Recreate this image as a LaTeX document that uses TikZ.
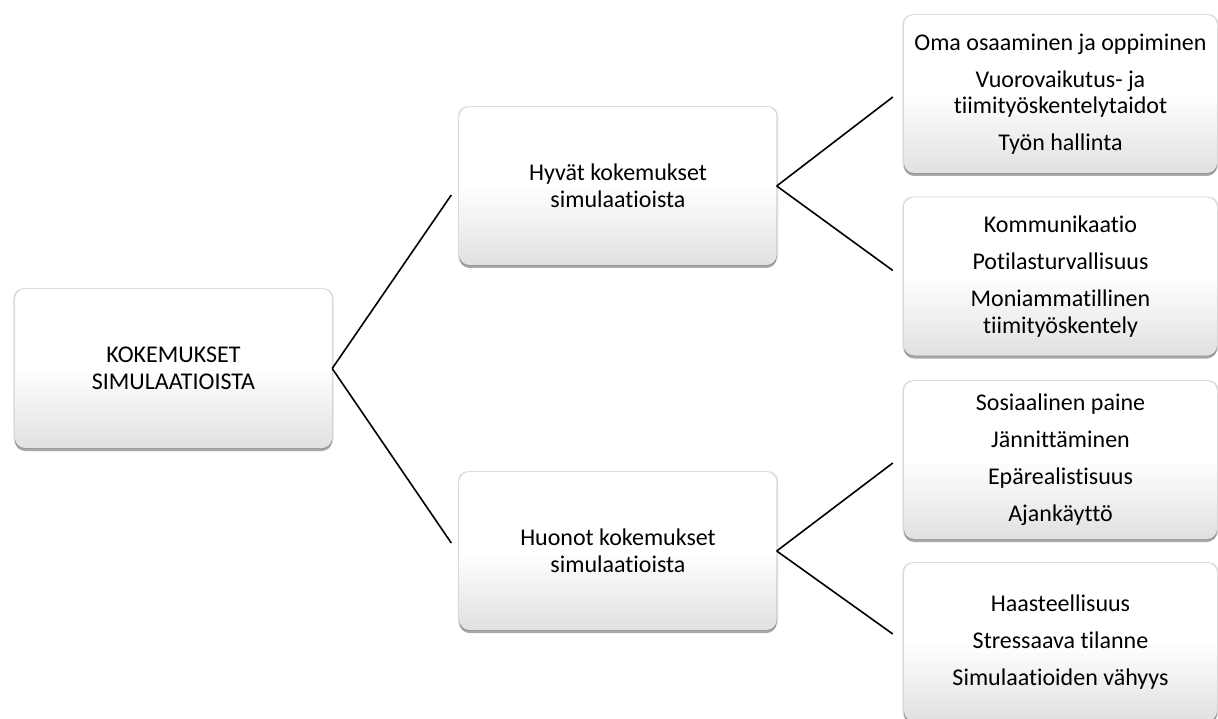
\documentclass[tikz,border=0pt]{standalone}
\usepackage{fontspec}
\setmainfont{Carlito}[Ligatures=NoCommon]
\usetikzlibrary{shadows}
\begin{document}
\begin{tikzpicture}[x=1pt,y=1pt,
  card/.style={rounded corners=10pt, inner sep=0pt, align=center,
    top color=white, bottom color=black!12, middle color=white,
    shading angle=0,
    general shadow={fill=black, opacity=0.14, shadow scale=1.01},
    drop shadow={shadow xshift=0pt, shadow yshift=-3pt, opacity=0.45, fill=black!75},
    font=\fontsize{24}{26.5}\selectfont, text=black},
  midcard/.style={card, minimum width=317pt, minimum height=158pt},
  rightcard/.style={card, minimum width=313pt, minimum height=158pt},
  link/.style={line width=1.6pt, black}]
\useasboundingbox (0,0) rectangle (1218,-719);
\clip (0,0) rectangle (1218,-719);
\fill[white] (0,0) rectangle (1218,-719);
\node[card, minimum width=317pt, minimum height=159pt] (root) at (173.5,-368.5) {KOKEMUKSET\\SIMULAATIOISTA};
\node[midcard] (good) at (618,-186) {Hyvät kokemukset\\simulaatioista};
\node[midcard] (bad) at (618,-551) {Huonot kokemukset\\simulaatioista};
\node[rightcard] (r1) at (1060.5,-94) {Oma osaaminen ja oppiminen\\[10.5pt]Vuorovaikutus- ja\\tiimityöskentelytaidot\\[10.5pt]Työn hallinta};
\node[rightcard] (r2) at (1060.5,-276.5) {Kommunikaatio\\[10.5pt]Potilasturvallisuus\\[10.5pt]Moniammatillinen\\tiimityöskentely};
\node[rightcard] (r3) at (1060.5,-460) {Sosiaalinen paine\\[10.5pt]Jännittäminen\\[10.5pt]Epärealistisuus\\[10.5pt]Ajankäyttö};
\node[rightcard] (r4) at (1060.5,-642) {Haasteellisuus\\[10.5pt]Stressaava tilanne\\[10.5pt]Simulaatioiden vähyys};
\draw[link] (root.east) -- ([xshift=-8pt,yshift=-9pt]good.west);
\draw[link] (root.east) -- ([xshift=-8pt,yshift=8pt]bad.west);
\draw[link] (good.east) -- ([xshift=-11pt,yshift=-3pt]r1.west);
\draw[link] (good.east) -- ([xshift=-11pt,yshift=6pt]r2.west);
\draw[link] (bad.east) -- ([xshift=-11pt,yshift=-3pt]r3.west);
\draw[link] (bad.east) -- ([xshift=-11pt,yshift=8pt]r4.west);
\end{tikzpicture}
\end{document}
